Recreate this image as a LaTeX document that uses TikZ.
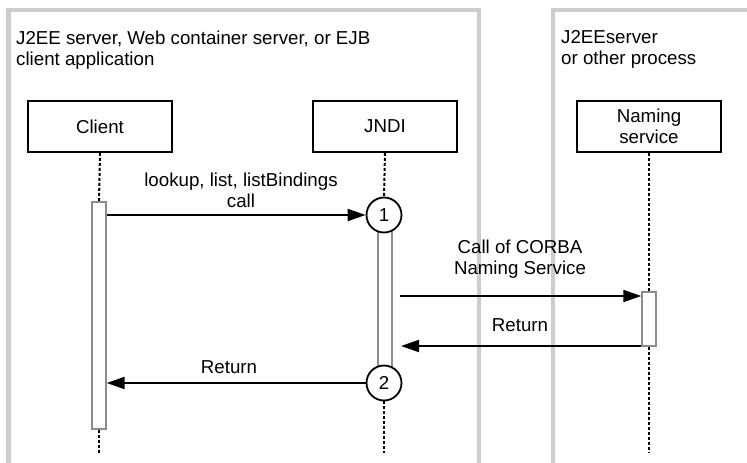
\documentclass[tikz,border=0pt]{standalone}
\usepackage{fontspec}
\setmainfont{Liberation Sans}
\usetikzlibrary{arrows.meta}
\begin{document}
\begin{tikzpicture}[x=1pt,y=-1pt,
 every node/.style={font=\fontsize{18.7}{21}\selectfont},
 frame/.style={draw=black!20, line width=4.5pt},
 obj/.style={draw, line width=1.6pt, minimum width=144pt, minimum height=51pt, align=center, inner sep=0pt},
 bar/.style={draw=black!45, fill=white, line width=1.4pt, minimum width=14pt, inner sep=0pt},
 life/.style={line width=2pt, dash pattern=on 3pt off 2pt},
 msg/.style={line width=2pt, -{Triangle[length=18pt,width=12pt]}},
 num/.style={circle, draw, line width=1.8pt, minimum size=35pt, inner sep=0pt, fill=white},
 lbl/.style={align=center, inner sep=0pt}]
\useasboundingbox (0,0) rectangle (747,463);
\clip (0,0) rectangle (747,463);
\fill[white] (0,0) rectangle (747,463);
% frames
\draw[frame] (8.5,10) rectangle (479,490);
\draw[frame] (553,10) rectangle (780,490);
\node[anchor=north west, align=left, inner sep=0pt] (t1) at (16,31) {J2EE server, Web container server, or EJB\\client application};
\node[anchor=north west, align=left, inner sep=0pt] (t2) at (561,30) {J2EEserver\\or other process};
% objects
\node[obj] (client) at (100,126.5) {Client};
\node[obj] (jndi) at (385,126.5) {JNDI};
\node[obj] (naming) at (649,126.5) {Naming\\service};
% activation bars
\node[bar, minimum height=227pt] (cbar) at (99,315.5) {};
\node[bar, minimum height=140pt] (jbar) at (385,300) {};
\node[bar, minimum height=54pt] (nbar) at (649,319) {};
% circles
\node[num] (c1) at (384,215) {1};
\node[num] (c2) at (384,383) {2};
% lifeline ends
\coordinate (cend) at (99,453);
\coordinate (jend) at (384,453);
\coordinate (nend) at (649,453);
\draw[life] (client.south) -- (cbar.north);
\draw[life] (cbar.south) -- (cend);
\draw[life] (jndi.south) -- (c1.north);
\draw[life] (c2.south) -- (jend);
\draw[life] (naming.south) -- (nbar.north);
\draw[life] (nbar.south) -- (nend);
% messages
\coordinate (m2s) at (400,296);
\coordinate (m3e) at (401,346);
\draw[msg] (cbar.east |- c1.west) -- (c1.west);
\draw[msg] (m2s) -- (nbar.west |- m2s);
\draw[msg] (nbar.west |- m3e) -- (m3e);
\draw[msg] (c2.west) -- (cbar.east |- c2.west);
% labels
\node[lbl] (l1) at (241,190) {lookup, list, listBindings\\call};
\node[lbl] (l2) at (520,259) {Call of CORBA\\Naming Service};
\node[lbl] (l3) at (520,325.5) {Return};
\node[lbl] (l4) at (229,367.5) {Return};
\end{tikzpicture}
\end{document}
